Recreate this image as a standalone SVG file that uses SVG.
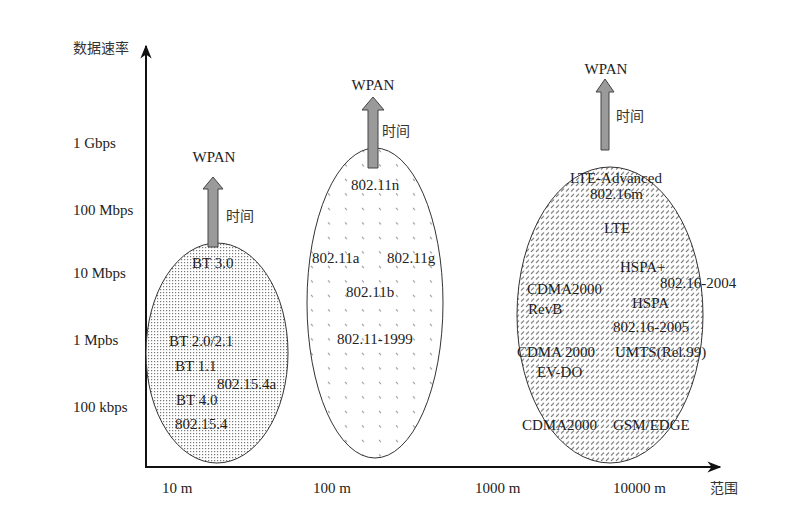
<svg xmlns="http://www.w3.org/2000/svg" width="799" height="505" viewBox="0 0 799 505">
<style>
text{font-family:"Liberation Serif","Times New Roman",serif;font-size:15px;fill:#222}
.cjk{font-family:"Noto Sans CJK SC",sans-serif;font-size:14px;fill:#333}
.ell{stroke:#333;stroke-width:1}
.axis{stroke:#111;stroke-width:2;fill:none}
.arr{fill:#9a9a9a;stroke:#444;stroke-width:1}
</style>
<defs>
<pattern id="dots" width="3" height="3" patternUnits="userSpaceOnUse">
<rect width="3" height="3" fill="#fff"/>
<rect x="1" y="1" width="1.2" height="1.2" fill="#777"/>
</pattern>
<pattern id="ticks" width="17" height="14.5" patternUnits="userSpaceOnUse">
<rect width="17" height="14.5" fill="#fff"/>
<path d="M5 5 L7 7" stroke="#888" stroke-width="1"/>
</pattern>
<pattern id="hatch" width="5" height="5.5" patternUnits="userSpaceOnUse">
<rect width="5" height="5.5" fill="#fff"/>
<path d="M1 4.5 L4 1.5" stroke="#666" stroke-width="1.1"/>
</pattern>
<marker id="ah" viewBox="0 0 10 10" refX="9" refY="5" markerWidth="7" markerHeight="7" orient="auto">
<path d="M0 1 L10 5 L0 9 L3 5 Z" fill="#111"/>
</marker>
</defs>

<g id="axes">
<path class="axis" d="M146 467 L146 46" marker-end="url(#ah)"/>
<path class="axis" d="M145 467 L720 467" marker-end="url(#ah)"/>
<text class="cjk" x="73" y="53">数据速率</text>
<text x="73" y="148">1 Gbps</text>
<text x="73" y="215">100 Mbps</text>
<text x="73" y="278">10 Mbps</text>
<text x="73" y="345">1 Mpbs</text>
<text x="73" y="412">100 kbps</text>
<text x="162" y="493">10 m</text>
<text x="313" y="493">100 m</text>
<text x="475" y="493">1000 m</text>
<text x="613" y="493">10000 m</text>
<text class="cjk" x="710" y="493">范围</text>
</g>

<g id="wpan-short">
<ellipse class="ell" cx="217" cy="353" rx="71" ry="110" fill="url(#dots)"/>
<path class="arr" d="M208 247 L208 189 L203 189 L213 177 L223 189 L218 189 L218 247 Z"/>
<text x="214" y="162" text-anchor="middle">WPAN</text>
<text class="cjk" x="226" y="221">时间</text>
<text x="192" y="268">BT 3.0</text>
<text x="169" y="346">BT 2.0/2.1</text>
<text x="175" y="371">BT 1.1</text>
<text x="217" y="389">802.15.4a</text>
<text x="176" y="405">BT 4.0</text>
<text x="175" y="429">802.15.4</text>
</g>

<g id="wlan">
<ellipse class="ell" cx="375" cy="303" rx="68" ry="155" fill="url(#ticks)"/>
<path class="arr" d="M368 168 L368 110 L362 110 L373 97 L384 110 L378 110 L378 168 Z"/>
<text x="373" y="90" text-anchor="middle">WPAN</text>
<text class="cjk" x="382" y="136">时间</text>
<text x="351" y="190">802.11n</text>
<text x="312" y="263">802.11a</text>
<text x="387" y="263">802.11g</text>
<text x="346" y="297">802.11b</text>
<text x="337" y="344">802.11-1999</text>
</g>

<g id="wwan">
<ellipse class="ell" cx="610" cy="315" rx="93" ry="148" fill="url(#hatch)"/>
<path class="arr" d="M601 150 L601 92 L596 92 L605 79 L614 92 L609 92 L609 150 Z"/>
<text x="606" y="74" text-anchor="middle">WPAN</text>
<text class="cjk" x="616" y="121">时间</text>
<text x="570" y="183">LTE-Advanced</text>
<text x="590" y="199">802.16m</text>
<text x="604" y="233">LTE</text>
<text x="620" y="272">HSPA+</text>
<text x="660" y="288">802.16-2004</text>
<text x="527" y="294">CDMA2000</text>
<text x="528" y="314">RevB</text>
<text x="632" y="308">HSPA</text>
<text x="613" y="332">802.16-2005</text>
<text x="517" y="357">CDMA 2000</text>
<text x="615" y="357">UMTS(Rel.99)</text>
<text x="537" y="377">EV-DO</text>
<text x="522" y="430">CDMA2000</text>
<text x="613" y="430">GSM/EDGE</text>
</g>
</svg>
